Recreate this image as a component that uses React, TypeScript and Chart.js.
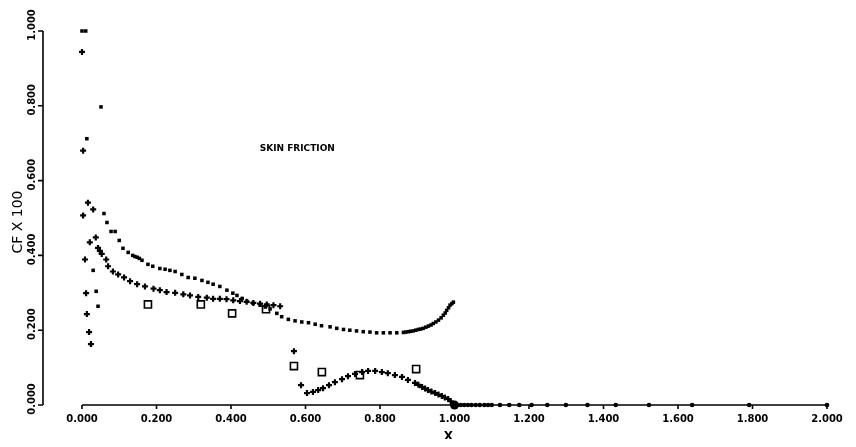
import React, { useEffect, useRef } from "react";
import { Chart, registerables } from "chart.js";

Chart.register(...registerables);

// ---------- axis ticks ----------
const xTickValues = [0, 0.2, 0.4, 0.6, 0.8, 1.0, 1.2, 1.4, 1.6, 1.8, 2.0];
const xTickLabels = ["0.000", "0.200", "0.400", "0.600", "0.800", "1.000", "1.200", "1.400", "1.600", "1.800", "2.000"];
const yTickValues = [0, 0.2, 0.4, 0.6, 0.8, 1.0];
const yTickLabels = ["0.000", "0.200", "0.400", "0.600", "0.800", "1.000"];

const chartTitle = "SKIN FRICTION";
const xTitle = "X";
const yTitle = "CF X 100";

// ---------- series: filled squares (upper curve) ----------
const squareX = [
  0.0, 0.01, 0.051, 0.013, 0.03, 0.038, 0.043,
  0.059, 0.067, 0.078, 0.089, 0.1, 0.11, 0.124, 0.136, 0.142, 0.148, 0.154, 0.161,
  0.177, 0.19, 0.209, 0.223, 0.236, 0.25, 0.268, 0.285, 0.303, 0.322, 0.338, 0.352,
  0.37, 0.389, 0.405, 0.416, 0.43, 0.443, 0.459, 0.478, 0.492, 0.505, 0.523,
  0.536, 0.554, 0.572, 0.59, 0.608, 0.626, 0.643, 0.666, 0.684, 0.702, 0.719, 0.737,
  0.755, 0.773, 0.791, 0.809, 0.827, 0.845, 0.863, 0.869, 0.876, 0.882, 0.889, 0.896,
  0.903, 0.909, 0.916, 0.923, 0.93, 0.937, 0.943, 0.95, 0.957, 0.964, 0.97, 0.975,
  0.979, 0.984, 0.988, 0.993, 0.997,
];
const squareY = [
  1.0, 1.0, 0.797, 0.712, 0.36, 0.304, 0.264,
  0.512, 0.488, 0.464, 0.464, 0.44, 0.419, 0.408, 0.4, 0.397, 0.395, 0.392, 0.387,
  0.376, 0.371, 0.365, 0.363, 0.36, 0.357, 0.349, 0.341, 0.339, 0.333, 0.328, 0.323,
  0.317, 0.307, 0.299, 0.293, 0.285, 0.277, 0.272, 0.267, 0.262, 0.257, 0.245,
  0.236, 0.229, 0.225, 0.222, 0.22, 0.216, 0.212, 0.209, 0.205, 0.202, 0.2, 0.198,
  0.196, 0.195, 0.193, 0.193, 0.193, 0.193, 0.194, 0.195, 0.196, 0.197, 0.198, 0.2,
  0.202, 0.203, 0.205, 0.208, 0.211, 0.214, 0.218, 0.222, 0.227, 0.233, 0.24, 0.246,
  0.253, 0.26, 0.267, 0.271, 0.275,
];

// ---------- series: crosses (lower curve) ----------
const crossX = [
  0.0, 0.003, 0.003, 0.008, 0.011, 0.013, 0.019, 0.024,
  0.016, 0.03, 0.021, 0.037, 0.043, 0.048, 0.053, 0.065, 0.07, 0.083, 0.097, 0.113,
  0.129, 0.148, 0.169, 0.192, 0.209, 0.227, 0.25, 0.272, 0.29, 0.312, 0.335, 0.352,
  0.37, 0.388, 0.406, 0.424, 0.442, 0.46, 0.478, 0.496, 0.514, 0.532,
  0.569, 0.588, 0.604, 0.62, 0.634, 0.647, 0.663, 0.679, 0.698, 0.714, 0.733, 0.752,
  0.768, 0.787, 0.805, 0.821, 0.84, 0.859, 0.875, 0.894, 0.903, 0.913, 0.921, 0.929,
  0.938, 0.948, 0.957, 0.966, 0.974, 0.983, 0.99, 0.996,
];
const crossY = [
  0.944, 0.68, 0.507, 0.389, 0.299, 0.243, 0.195, 0.163,
  0.541, 0.523, 0.435, 0.448, 0.42, 0.412, 0.404, 0.389, 0.371, 0.357, 0.349, 0.341,
  0.331, 0.323, 0.317, 0.311, 0.307, 0.302, 0.3, 0.296, 0.293, 0.289, 0.287, 0.284,
  0.284, 0.283, 0.28, 0.278, 0.276, 0.273, 0.271, 0.269, 0.267, 0.264,
  0.144, 0.053, 0.032, 0.035, 0.04, 0.045, 0.053, 0.061, 0.069, 0.077, 0.083, 0.088,
  0.091, 0.091, 0.088, 0.085, 0.08, 0.075, 0.067, 0.059, 0.054, 0.048, 0.044, 0.04,
  0.036, 0.032, 0.028, 0.024, 0.02, 0.016, 0.01, 0.003,
];

// ---------- series: experiment (open squares) ----------
const expX = [0.177, 0.319, 0.403, 0.494, 0.569, 0.644, 0.746, 0.897];
const expY = [0.269, 0.269, 0.245, 0.256, 0.104, 0.088, 0.08, 0.096];

// ---------- series: wake (dots) ----------
const wakeX = [
  1.0, 1.008, 1.017, 1.026, 1.036, 1.046, 1.057, 1.068, 1.08, 1.09, 1.1, 1.122,
  1.147, 1.174, 1.207, 1.249, 1.299, 1.357, 1.433, 1.522, 1.638, 1.791, 2.0,
];
const wakeY = [
  0, 0, 0, 0, 0, 0, 0, 0, 0, 0, 0, 0,
  0, 0, 0, 0, 0, 0, 0, 0, 0, 0, 0,
];

const toPoints = (xs: number[], ys: number[]) => xs.map((x, i) => ({ x, y: ys[i] }));

const FONT_FAMILY = "'DejaVu Sans', sans-serif";

const paperAxes = {
  id: "paperAxes",
  beforeDatasetsDraw(chart: any) {
    const { ctx, chartArea } = chart;
    const xs = chart.scales.x;
    const ys = chart.scales.y;
    ctx.save();
    ctx.strokeStyle = "#000";
    ctx.fillStyle = "#000";
    ctx.lineWidth = 1.6;

    // X axis
    const yBase = ys.getPixelForValue(0);
    ctx.beginPath();
    ctx.moveTo(xs.getPixelForValue(xTickValues[0]), yBase);
    ctx.lineTo(xs.getPixelForValue(xTickValues[xTickValues.length - 1]), yBase);
    xTickValues.forEach((v) => {
      const px = xs.getPixelForValue(v);
      ctx.moveTo(px, yBase);
      ctx.lineTo(px, yBase + 4);
    });
    ctx.stroke();

    ctx.font = `bold 10px ${FONT_FAMILY}`;
    ctx.textAlign = "center";
    ctx.textBaseline = "middle";
    xTickValues.forEach((v, i) => {
      ctx.fillText(xTickLabels[i], xs.getPixelForValue(v), yBase + 14);
    });
    ctx.font = `bold 12px ${FONT_FAMILY}`;
    ctx.fillText(xTitle, xs.getPixelForValue(1.0) - 6, yBase + 32);

    // Y axis (detached, to the left of the plot)
    const axX = chartArea.left - 39;
    ctx.beginPath();
    ctx.moveTo(axX, ys.getPixelForValue(yTickValues[0]));
    ctx.lineTo(axX, ys.getPixelForValue(yTickValues[yTickValues.length - 1]));
    yTickValues.forEach((v) => {
      const py = ys.getPixelForValue(v);
      ctx.moveTo(axX, py);
      ctx.lineTo(axX - 5, py);
    });
    ctx.stroke();

    ctx.font = `bold 10px ${FONT_FAMILY}`;
    yTickValues.forEach((v, i) => {
      const py = ys.getPixelForValue(v);
      ctx.save();
      ctx.translate(axX - 11, py - 6);
      ctx.rotate(-Math.PI / 2);
      ctx.fillText(yTickLabels[i], 0, 0);
      ctx.restore();
    });

    ctx.save();
    ctx.font = `14px ${FONT_FAMILY}`;
    ctx.translate(axX - 25, ys.getPixelForValue(0.5) + 4);
    ctx.rotate(-Math.PI / 2);
    ctx.fillText(yTitle, 0, 0);
    ctx.restore();

    // Title inside plot
    ctx.font = `bold 9px ${FONT_FAMILY}`;
    ctx.fillText(chartTitle, xs.getPixelForValue(0.578), ys.getPixelForValue(0.685));

    ctx.restore();
  },
};

export default function App() {
  const canvasRef = useRef<HTMLCanvasElement | null>(null);

  useEffect(() => {
    const canvas = canvasRef.current;
    if (!canvas) return;
    const chart = new Chart(canvas, {
      type: "scatter",
      data: {
        datasets: [
          {
            label: "wake",
            data: toPoints(wakeX, wakeY),
            pointStyle: "circle",
            pointRadius: (c: any) => (c.dataIndex === 0 ? 4.5 : 2.3),
            backgroundColor: "#000",
            borderColor: "#000",
            borderWidth: 0,
            showLine: false,
            clip: false,
          },
          {
            label: "upper",
            data: toPoints(squareX, squareY),
            pointStyle: "rect",
            pointRadius: 2.5,
            backgroundColor: "#000",
            borderColor: "#000",
            borderWidth: 0,
            showLine: false,
            clip: false,
          },
          {
            label: "lower",
            data: toPoints(crossX, crossY),
            pointStyle: "cross",
            pointRadius: 3,
            backgroundColor: "#000",
            borderColor: "#000",
            borderWidth: 2.2,
            showLine: false,
            clip: false,
          },
          {
            label: "experiment",
            data: toPoints(expX, expY),
            pointStyle: "rect",
            pointRadius: 5,
            backgroundColor: "rgba(255,255,255,0)",
            borderColor: "#000",
            borderWidth: 1.6,
            showLine: false,
            clip: false,
          },
        ],
      },
      options: {
        animation: false,
        responsive: false,
        maintainAspectRatio: false,
        events: [],
        layout: { padding: { left: 74, right: 21, top: 23, bottom: 42 } },
        scales: {
          x: { type: "linear", min: 0, max: 2, display: false },
          y: { type: "linear", min: 0, max: 1, display: false },
        },
        plugins: {
          legend: { display: false },
          tooltip: { enabled: false },
          title: { display: false },
        },
      },
      plugins: [paperAxes],
    } as any);
    return () => chart.destroy();
  }, []);

  return (
    <div style={{ width: 840, height: 431, background: "#fff" }}>
      <canvas ref={canvasRef} width={840} height={439} style={{ display: "block" }} />
    </div>
  );
}
